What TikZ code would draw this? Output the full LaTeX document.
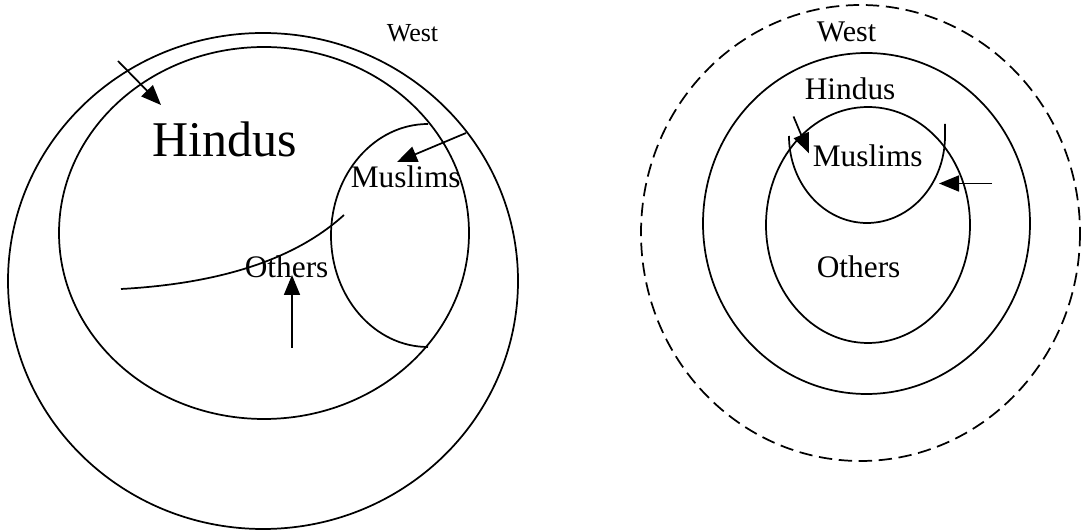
\documentclass[tikz,border=0pt]{standalone}
\usepackage{fontspec}
\setmainfont{Liberation Serif}
\usetikzlibrary{arrows.meta}
\begin{document}
\begin{tikzpicture}[x=0.75pt,y=-0.75pt, line width=1.3pt,
  arr/.style={-{Triangle[length=15pt,width=12pt]}},
  lbl/.style={anchor=base west, inner sep=0pt},
  dashring/.style={dash pattern=on 10pt off 5pt}]
\useasboundingbox (0,0) rectangle (1083,530);
% ---------- left diagram ----------
\draw (263,281) ellipse [x radius=255, y radius=248];
\draw (264,233) ellipse [x radius=205, y radius=186];
\draw (428,124) arc[start angle=270, end angle=90, x radius=97, y radius=111.5];
\coordinate (cs) at (121,289);
\coordinate (ce) at (344,215);
\draw (cs) .. controls (230,283) and (300,255) .. (ce);
\node[lbl, font=\fontsize{37.5}{40}\selectfont] (LH) at (152,157) {Hindus};
\node[lbl, font=\fontsize{23.5}{26}\selectfont] (LM) at (350,188) {Muslims};
\node[lbl, font=\fontsize{23.5}{26}\selectfont] (LO) at (244,278) {Others};
\node[lbl, font=\fontsize{19.5}{22}\selectfont] (LW) at (386,42) {West};
\coordinate (a1s) at (118,61);  \coordinate (a1e) at (161,105);
\coordinate (a2s) at (466,133); \coordinate (a2e) at (397,162);
\coordinate (a3s) at (292,348); \coordinate (a3e) at (292,275);
\draw[arr] (a1s) -- (a1e);
\draw[arr] (a2s) -- (a2e);
\draw[arr] (a3s) -- (a3e);
% ---------- right diagram ----------
\draw[dashring] (860.5,233) ellipse [x radius=219.5, y radius=228];
\draw (866.5,223.5) ellipse [x radius=163.5, y radius=170.5];
\draw (868,225) ellipse [x radius=102, y radius=118];
\draw (789,136) arc[start angle=180, end angle=0, x radius=78, y radius=87] -- (945,124);
\node[lbl, font=\fontsize{22.5}{25}\selectfont] (RW) at (816,42) {West};
\node[lbl, font=\fontsize{23.5}{26}\selectfont] (RH) at (804,100) {Hindus};
\node[lbl, font=\fontsize{23.5}{26}\selectfont] (RM) at (812,167) {Muslims};
\node[lbl, font=\fontsize{23.5}{26}\selectfont] (RO) at (816,277.5) {Others};
\coordinate (b1s) at (793.5,116.5); \coordinate (b1e) at (809,153.5);
\coordinate (b2s) at (992,183.5);   \coordinate (b2e) at (939,183.5);
\draw[arr] (b1s) -- (b1e);
\draw[arr] (b2s) -- (b2e);
\end{tikzpicture}
\end{document}
